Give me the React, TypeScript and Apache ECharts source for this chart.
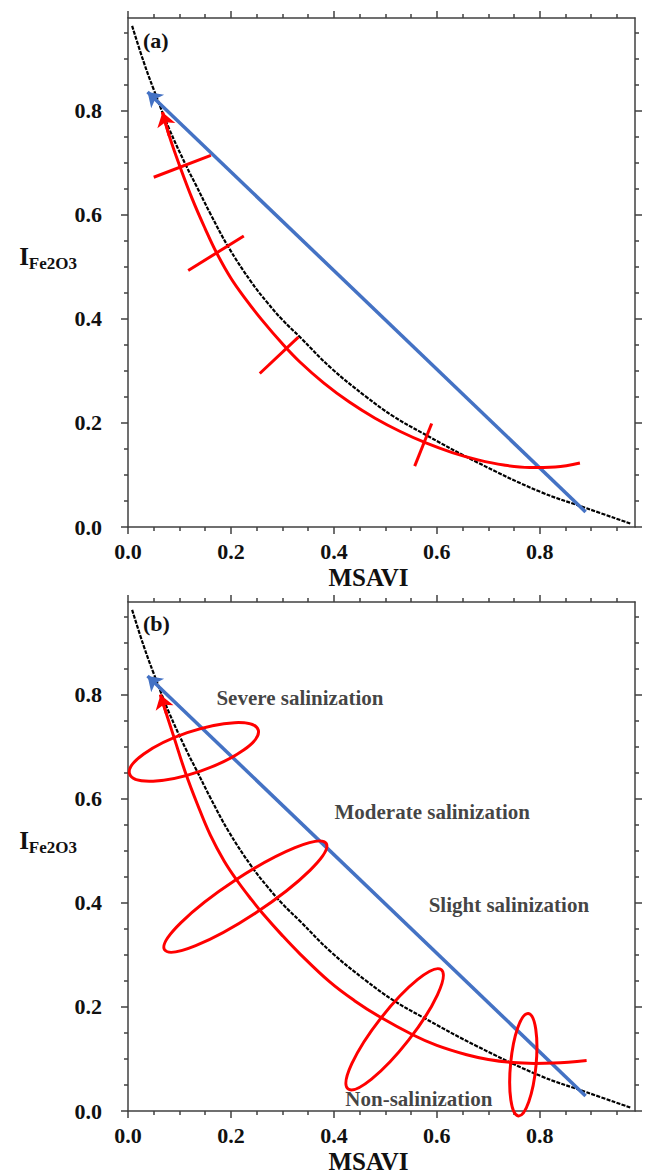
import React, { useEffect, useRef } from "react";
import * as echarts from "echarts";

// Axis ticks (shared by both panels)
const MAJOR_TICKS = [0, 0.2, 0.4, 0.6, 0.8];
const MINOR_TICKS = [0.05, 0.1, 0.15, 0.25, 0.3, 0.35, 0.45, 0.5, 0.55, 0.65, 0.7, 0.75, 0.85, 0.9, 0.95];
const X_MAX = 0.985;
const Y_MAX = 0.978;

// Soil line (MSAVI, I_Fe2O3)
const SOIL_LINE = [
  [0.008, 0.963], [0.03, 0.895], [0.049, 0.843], [0.08, 0.765], [0.114, 0.692],
  [0.133, 0.655], [0.16, 0.602], [0.195, 0.538], [0.24, 0.47], [0.27, 0.432],
  [0.3, 0.398], [0.334, 0.365], [0.395, 0.305], [0.463, 0.25], [0.515, 0.213],
  [0.573, 0.18], [0.677, 0.125], [0.8, 0.068], [0.891, 0.036], [0.978, 0.006],
];

// Straight salinization direction (tail -> head)
const BLUE_TAIL = [0.889, 0.029];
const BLUE_HEAD = [0.038, 0.836];

// Curved salinization trajectory, panel (a), from its low end to the arrow
const RED_A = [
  [0.878, 0.123], [0.83, 0.1155], [0.78, 0.1145], [0.73, 0.119], [0.68, 0.129],
  [0.63, 0.143], [0.58, 0.161], [0.53, 0.183], [0.48, 0.209], [0.43, 0.24],
  [0.38, 0.277], [0.334, 0.317], [0.3, 0.352], [0.26, 0.398], [0.23, 0.436],
  [0.2, 0.478], [0.172, 0.527], [0.15, 0.573], [0.125, 0.63], [0.1, 0.695],
  [0.08, 0.752], [0.067, 0.797],
];

// Class boundaries crossing the trajectory, panel (a)
const CROSS_A = [
  [[0.05, 0.672], [0.161, 0.714]],
  [[0.117, 0.493], [0.225, 0.559]],
  [[0.256, 0.295], [0.331, 0.365]],
  [[0.557, 0.117], [0.59, 0.199]],
];

// Curved salinization trajectory, panel (b), from its low end to the arrow
const RED_B = [
  [0.891, 0.097], [0.826, 0.092], [0.79, 0.0915], [0.748, 0.093], [0.7, 0.099],
  [0.658, 0.108], [0.6, 0.126], [0.554, 0.146], [0.489, 0.181], [0.44, 0.212],
  [0.392, 0.248], [0.334, 0.302], [0.3, 0.337], [0.263, 0.378], [0.24, 0.406],
  [0.214, 0.44], [0.187, 0.48], [0.16, 0.53], [0.135, 0.589], [0.111, 0.652],
  [0.09, 0.716], [0.075, 0.762], [0.063, 0.8],
];

// Class ellipses, panel (b): centre x, centre y, half-width (x units), half-height (y units), tilt in degrees
const ELLIPSES_B = [
  [0.128, 0.69, 0.132, 0.039, 19],
  [0.228, 0.412, 0.188, 0.037, 33.4],
  [0.518, 0.157, 0.147, 0.034, 52],
  [0.768, 0.089, 0.1, 0.0245, 84.5],
];

const ZONE_NAMES = ["Severe salinization", "Moderate salinization", "Slight salinization", "Non-salinization"];
const ZONE_POS = [[0.334, 0.794], [0.591, 0.575], [0.74, 0.395], [0.565, 0.024]];

const FONT = '"Liberation Serif", "Times New Roman", serif';
const INK = "#111111";
const AXIS_INK = "#404040";
const RED = "#ff0000";
const BLUE = "#4472c4";

const GRIDS = [
  { left: 128, top: 18, width: 507, height: 509 },
  { left: 128, top: 602, width: 507, height: 509 },
];

const tickLine = { color: AXIS_INK, width: 1.5 };

function axesFor(dim: "x" | "y", gridIndex: number) {
  const base: any = {
    type: "value",
    gridIndex,
    min: 0,
    max: dim === "x" ? X_MAX : Y_MAX,
    splitLine: { show: false },
  };
  const near = dim === "x" ? "bottom" : "left";
  const far = dim === "x" ? "top" : "right";
  const main: any = {
    ...base,
    position: near,
    nameMoveOverlap: false,
    axisLine: { show: true, onZero: false, lineStyle: tickLine },
    axisTick: { show: true, length: 7, customValues: MAJOR_TICKS, lineStyle: tickLine },
    axisLabel: {
      show: true,
      customValues: MAJOR_TICKS,
      formatter: (v: number) => v.toFixed(1),
      margin: dim === "x" ? 13 : 26,
      color: INK,
      fontSize: 22,
      fontWeight: "bold",
      fontFamily: FONT,
    },
  };
  if (dim === "x") {
    main.name = "MSAVI";
    main.nameLocation = "middle";
    main.nameGap = 38;
    main.nameTextStyle = {
      color: INK,
      fontSize: 25,
      fontWeight: "bold",
      fontFamily: FONT,
      padding: [0, 26, 0, 0],
    };
  } else {
    main.name = "{i|I}{s|Fe2O3}";
    main.nameLocation = "middle";
    main.nameRotate = 0;
    main.nameGap = 51;
    main.nameTextStyle = {
      padding: [0, 0, 32, 0],
      rich: {
        i: { fontSize: 25, fontWeight: "bold", fontFamily: FONT, color: INK, lineHeight: 30 },
        s: { fontSize: 17, fontWeight: "bold", fontFamily: FONT, color: INK, lineHeight: 12, verticalAlign: "bottom" },
      },
    };
  }
  const minorNear = {
    ...base,
    position: near,
    axisLine: { show: false, onZero: false },
    axisTick: { show: true, length: 4, customValues: MINOR_TICKS, lineStyle: tickLine },
    axisLabel: { show: false },
  };
  const mainFar = {
    ...base,
    position: far,
    axisLine: { show: true, onZero: false, lineStyle: tickLine },
    axisTick: { show: true, length: 7, customValues: MAJOR_TICKS, lineStyle: tickLine },
    axisLabel: { show: false },
  };
  const minorFar = {
    ...base,
    position: far,
    axisLine: { show: false, onZero: false },
    axisTick: { show: true, length: 4, customValues: MINOR_TICKS, lineStyle: tickLine },
    axisLabel: { show: false },
  };
  return [main, minorNear, mainFar, minorFar];
}

function panelSeries(axisIndex: number, red: number[][]) {
  const n = red.length;
  return [
    {
      type: "line",
      xAxisIndex: axisIndex,
      yAxisIndex: axisIndex,
      data: SOIL_LINE,
      smooth: 0.4,
      showSymbol: false,
      silent: true,
      z: 2,
      lineStyle: { color: "#000000", width: 2.2, type: [4, 1.3] },
    },
    {
      type: "lines",
      coordinateSystem: "cartesian2d",
      xAxisIndex: axisIndex,
      yAxisIndex: axisIndex,
      symbol: ["none", "arrow"],
      symbolSize: [11, 14],
      silent: true,
      z: 3,
      lineStyle: { color: BLUE, width: 3.5, opacity: 1 },
      data: [{ coords: [BLUE_TAIL, BLUE_HEAD] }],
    },
    {
      type: "line",
      xAxisIndex: axisIndex,
      yAxisIndex: axisIndex,
      data: red,
      smooth: 0.4,
      showSymbol: false,
      silent: true,
      z: 4,
      lineStyle: { color: RED, width: 3 },
    },
    {
      type: "lines",
      coordinateSystem: "cartesian2d",
      xAxisIndex: axisIndex,
      yAxisIndex: axisIndex,
      symbol: ["none", "arrow"],
      symbolSize: [10, 14],
      silent: true,
      z: 4,
      lineStyle: { color: RED, width: 3, opacity: 1 },
      data: [{ coords: [red[n - 2], red[n - 1]] }],
    },
  ];
}

function buildOption(): any {
  const series: any[] = [
    ...panelSeries(0, RED_A),
    {
      type: "lines",
      coordinateSystem: "cartesian2d",
      xAxisIndex: 0,
      yAxisIndex: 0,
      silent: true,
      z: 5,
      lineStyle: { color: RED, width: 3, opacity: 1 },
      data: CROSS_A.map((c) => ({ coords: c })),
    },
    ...panelSeries(4, RED_B),
    {
      type: "custom",
      xAxisIndex: 4,
      yAxisIndex: 4,
      silent: true,
      z: 5,
      data: ELLIPSES_B,
      renderItem: (_params: any, api: any) => {
        const c = api.coord([api.value(0), api.value(1)]);
        const s = api.size([api.value(2), api.value(3)]);
        return {
          type: "ellipse",
          x: c[0],
          y: c[1],
          rotation: (api.value(4) * Math.PI) / 180,
          shape: { cx: 0, cy: 0, rx: s[0], ry: s[1] },
          style: { fill: "none", stroke: RED, lineWidth: 3 },
        };
      },
    },
    {
      type: "scatter",
      xAxisIndex: 4,
      yAxisIndex: 4,
      silent: true,
      z: 6,
      symbolSize: 1,
      itemStyle: { color: "rgba(0,0,0,0)" },
      data: ZONE_NAMES.map((name, i) => ({ name, value: ZONE_POS[i] })),
      label: {
        show: true,
        position: "inside",
        formatter: "{b}",
        color: INK,
        fontSize: 21,
        fontWeight: "bold",
        fontFamily: FONT,
      },
    },
  ];

  const panelTitle = (text: string, top: number) => ({
    text,
    left: 143,
    top,
    padding: 0,
    textStyle: { color: INK, fontSize: 22, fontWeight: "bold", fontFamily: FONT },
  });

  return {
    animation: false,
    backgroundColor: "#ffffff",
    title: [panelTitle("(a)", 29), panelTitle("(b)", 612)],
    grid: GRIDS,
    xAxis: [...axesFor("x", 0), ...axesFor("x", 1)],
    yAxis: [...axesFor("y", 0), ...axesFor("y", 1)],
    series,
  };
}

export default function App() {
  const ref = useRef<HTMLDivElement>(null);
  useEffect(() => {
    if (!ref.current) return;
    const chart = echarts.init(ref.current, null, { renderer: "svg" });
    chart.setOption(buildOption());
    return () => chart.dispose();
  }, []);
  return (
    <div
      ref={ref}
      style={{ position: "fixed", left: 0, top: 0, width: 651, height: 1176, background: "#ffffff" }}
    />
  );
}
